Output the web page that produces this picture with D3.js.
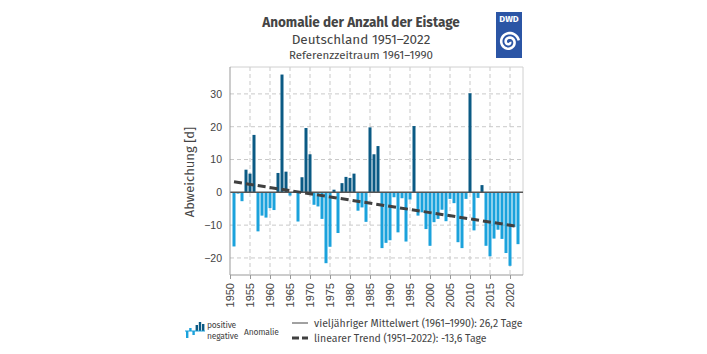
<!DOCTYPE html>
<html>
<head>
<meta charset="utf-8">
<script src="https://cdn.jsdelivr.net/npm/d3@7"></script>
<style>
  body { margin: 0; background: #fff; }
  svg { display: block; font-family: 'Fira Sans', Roboto, 'Noto Sans', sans-serif; }
  .tick text { fill: #444; }
</style>
</head>
<body>
<div id="main"></div>
<script>
// Anomalie der Anzahl der Eistage, Deutschland (Referenz 1961-1990)
const years = d3.range(1951, 2023)
const anomalies = [
  -16.5, -0.4, -2.7, 6.9, 5.7, 17.5, -11.9, -7.1, -7.7, -4.8,
  -5.4, 5.9, 35.9, 6.3, -1.0, 0.0, -8.9, 4.6, 19.6, 11.6,
  -3.8, -4.3, -8.1, -21.6, -16.6, 0.8, -12.4, 2.8, 4.7, 4.4,
  5.7, -5.6, -4.6, -9.0, 19.8, 11.6, 14.1, -17.0, -15.4, -14.6,
  -1.5, -12.2, -1.8, -15.0, -2.2, 20.2, -7.1, -6.1, -11.2, -16.3,
  -9.1, -8.1, -5.3, -8.8, -2.0, -3.3, -15.2, -17.0, -2.0, 30.2,
  -11.6, -1.7, 2.2, -16.3, -19.5, -14.1, -11.4, -14.2, -18.5, -22.4,
  -10.6, -15.8
]
const trendYears = [1951, 2022]
const trendValues = [3.2, -10.4]
const yTicks = [-20, -10, 0, 10, 20, 30]
const xTicks = d3.range(1950, 2021, 5)
const titleLines = ['Anomalie der Anzahl der Eistage', 'Deutschland 1951–2022', 'Referenzzeitraum 1961–1990']
const legendLines = ['vieljähriger Mittelwert  (1961–1990): 26,2 Tage', 'linearer Trend (1951–2022): -13,6 Tage']

const POS = '#0b5a84'
const NEG = '#1ba2dc'
const GRID = '#c9c9c9'
const TEXT = '#444'

const W = 707
const H = 354
const margin = { top: 67, left: 230, right: 184, bottom: 79 }

const svg = d3.select('#main').append('svg').attr('width', W).attr('height', H)

const x = d3.scaleLinear().domain([1950, 2023.25]).range([margin.left, W - margin.right])
const y = d3.scaleLinear().domain([-25.2, 38.2]).range([H - margin.bottom, margin.top])
const x0 = x.range()[0]
const x1 = x.range()[1]
const yTop = y.range()[1]
const yBot = y.range()[0]

// grid
const grid = svg.append('g').attr('class', 'grid')
grid.selectAll('line.h')
  .data(yTicks.filter(d => d !== 0))
  .enter()
  .append('line')
  .attr('class', 'h')
  .attr('x1', x0).attr('x2', x1)
  .attr('y1', d => y(d)).attr('y2', d => y(d))
  .attr('stroke', GRID).attr('stroke-dasharray', '4,3')
grid.selectAll('line.v')
  .data(xTicks.filter(d => d > 1950))
  .enter()
  .append('line')
  .attr('class', 'v')
  .attr('x1', d => x(d)).attr('x2', d => x(d))
  .attr('y1', yTop).attr('y2', yBot)
  .attr('stroke', GRID).attr('stroke-dasharray', '4,3')

// frame
svg.append('line').attr('x1', x0).attr('x2', x1).attr('y1', yTop).attr('y2', yTop).attr('stroke', '#d0d0d0')
svg.append('line').attr('x1', x1).attr('x2', x1).attr('y1', yTop).attr('y2', yBot).attr('stroke', '#d0d0d0')

// bars
const bw = 3
svg.append('g').selectAll('rect')
  .data(years.map((yr, i) => ({ year: yr, value: anomalies[i] })))
  .enter()
  .append('rect')
  .attr('x', d => x(d.year) - bw / 2)
  .attr('width', bw)
  .attr('y', d => y(Math.max(0, d.value)))
  .attr('height', d => Math.abs(y(d.value) - y(0)))
  .attr('fill', d => d.value >= 0 ? POS : NEG)

// zero line (Mittelwert)
svg.append('line')
  .attr('x1', x0).attr('x2', x1)
  .attr('y1', y(0)).attr('y2', y(0))
  .attr('stroke', '#555').attr('stroke-width', 1.5)

// trend
svg.append('path')
  .datum(trendYears.map((yr, i) => [yr, trendValues[i]]))
  .attr('d', d3.line().x(d => x(d[0])).y(d => y(d[1])))
  .attr('fill', 'none')
  .attr('stroke', '#404040')
  .attr('stroke-width', 3)
  .attr('stroke-dasharray', '8,4')

// axes
const yAxis = d3.axisLeft(y).tickValues(yTicks).tickSize(0).tickPadding(8)
svg.append('g')
  .attr('transform', `translate(${x0}, 0)`)
  .call(yAxis)
  .call(g => g.select('.domain').remove())
  .selectAll('text')
  .style('font-size', '10.5px')

svg.append('line').attr('x1', x0).attr('x2', x0).attr('y1', yTop).attr('y2', yBot).attr('stroke', '#999')

const xAxis = d3.axisBottom(x).tickValues(xTicks).tickSize(4).tickFormat(d3.format('d'))
const gx = svg.append('g')
  .attr('transform', `translate(0, ${yBot})`)
  .call(xAxis)
gx.select('.domain').attr('stroke', '#999').attr('d', `M${x0},0H${x1}`)
gx.selectAll('.tick line').attr('stroke', '#999')
gx.selectAll('text')
  .style('font-size', '11px')
  .attr('text-anchor', 'end')
  .attr('transform', 'rotate(-90)')
  .attr('x', -8)
  .attr('y', 0)
  .attr('dy', '0.35em')

svg.append('text')
  .attr('transform', `translate(194, 172) rotate(-90)`)
  .attr('text-anchor', 'middle')
  .attr('fill', TEXT)
  .style('font-size', '13px')
  .text('Abweichung [d]')

// titles
const tx = 361
svg.append('text').attr('x', tx).attr('y', 27).attr('text-anchor', 'middle')
  .attr('fill', TEXT).style('font-size', '13.5px').style('font-weight', 'bold').text(titleLines[0])
svg.append('text').attr('x', tx).attr('y', 44).attr('text-anchor', 'middle')
  .attr('fill', TEXT).style('font-size', '13.5px').text(titleLines[1])
svg.append('text').attr('x', tx).attr('y', 59).attr('text-anchor', 'middle')
  .attr('fill', TEXT).style('font-size', '11.5px').text(titleLines[2])

// DWD logo
const logo = svg.append('g').attr('transform', 'translate(496, 12)')
logo.append('rect').attr('width', 26).attr('height', 46).attr('fill', '#2b55a5')
logo.append('text').attr('x', 13).attr('y', 10).attr('text-anchor', 'middle')
  .attr('fill', '#fff').style('font-size', '9px').style('font-weight', 'bold').text('DWD')
const spiral = d3.range(0, 4 * Math.PI + 0.01, 0.2).map(t => {
  const r = 1 + t * 0.72
  return [13 + r * Math.cos(t), 30 + r * Math.sin(t)]
})
logo.append('path').attr('d', d3.line()(spiral)).attr('fill', 'none')
  .attr('stroke', '#fff').attr('stroke-width', 2.6)

// legend
const leg = svg.append('g')
const icon = [[-7, NEG], [3, NEG], [-4, NEG], [6, POS], [9, POS], [7, POS]]
leg.selectAll('rect')
  .data(icon)
  .enter()
  .append('rect')
  .attr('x', (d, i) => 186 + i * 3.2)
  .attr('width', 2.4)
  .attr('y', d => d[0] > 0 ? 331 - d[0] : 331)
  .attr('height', d => Math.abs(d[0]))
  .attr('fill', d => d[1])
leg.append('line').attr('x1', 185).attr('x2', 205).attr('y1', 331).attr('y2', 331)
  .attr('stroke', NEG).attr('stroke-width', 1)
leg.append('text').attr('x', 207).attr('y', 328).attr('fill', TEXT)
  .style('font-size', '8.5px').style('letter-spacing', '-0.2px').text('positive')
leg.append('text').attr('x', 207).attr('y', 339).attr('fill', TEXT)
  .style('font-size', '8.5px').style('letter-spacing', '-0.2px').text('negative')
leg.append('text').attr('x', 244).attr('y', 335).attr('fill', TEXT)
  .style('font-size', '8.5px').style('letter-spacing', '-0.2px').text('Anomalie')

leg.append('line').attr('x1', 292).attr('x2', 308).attr('y1', 323).attr('y2', 323)
  .attr('stroke', '#444').attr('stroke-width', 1)
leg.append('line').attr('x1', 292).attr('x2', 308).attr('y1', 338).attr('y2', 338)
  .attr('stroke', '#404040').attr('stroke-width', 3).attr('stroke-dasharray', '7,3')
leg.append('text').attr('x', 314).attr('y', 327).attr('fill', TEXT).style('font-size', '10.5px').text(legendLines[0])
leg.append('text').attr('x', 314).attr('y', 342).attr('fill', TEXT).style('font-size', '10.5px').text(legendLines[1])
</script>
</body>
</html>
